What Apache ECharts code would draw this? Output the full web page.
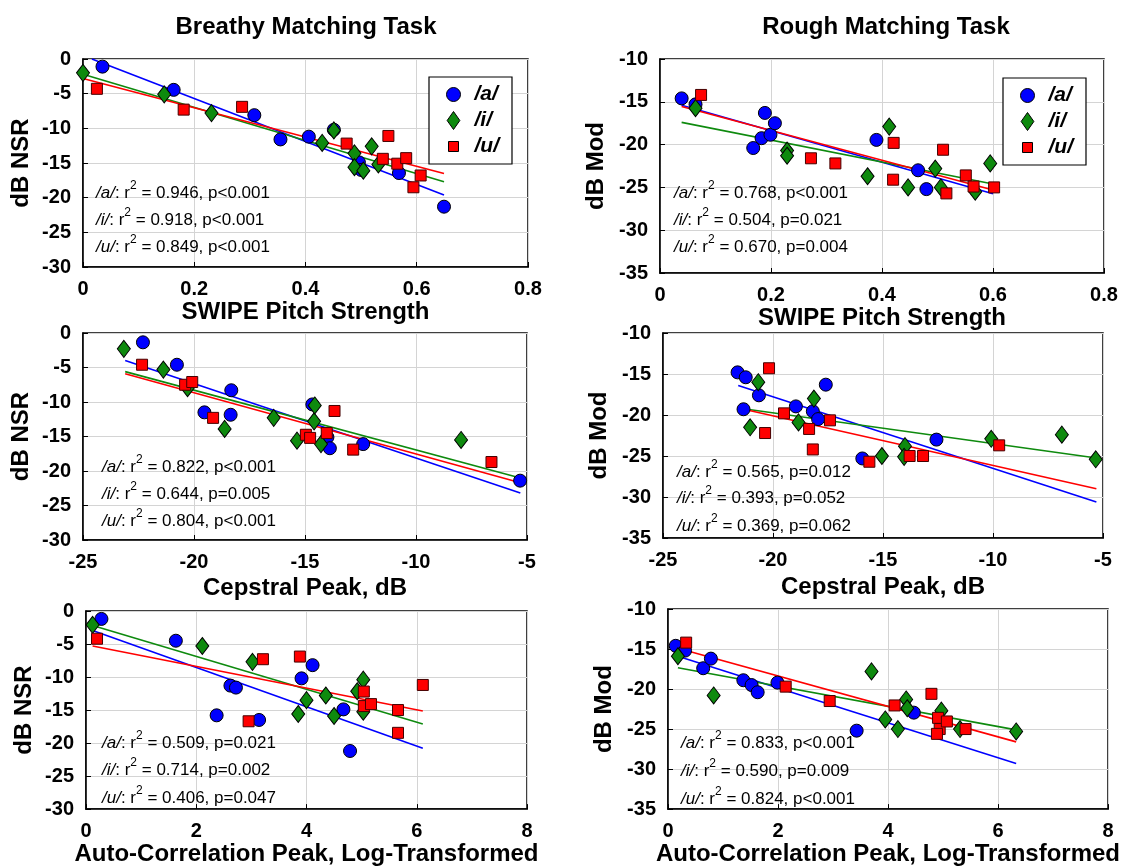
<!DOCTYPE html>
<html><head><meta charset="utf-8">
<script src="https://cdn.jsdelivr.net/npm/echarts@6/dist/echarts.min.js"></script>
<style>html,body{margin:0;padding:0;background:#fff}#c{width:1130px;height:867px}</style>
</head><body><div id="c"></div>
<script>
// ---------- text ----------
const panelTitles = ['Breathy Matching Task', 'Rough Matching Task'];
const xNames = ['SWIPE Pitch Strength', 'SWIPE Pitch Strength', 'Cepstral Peak, dB', 'Cepstral Peak, dB',
  'Auto-Correlation Peak, Log-Transformed', 'Auto-Correlation Peak, Log-Transformed'];
const yNames = ['dB NSR', 'dB Mod', 'dB NSR', 'dB Mod', 'dB NSR', 'dB Mod'];
const vowels = ['/a/', '/i/', '/u/'];

// ---------- axis ranges (min, max, interval) ----------
const xRanges = [[0, 0.8, 0.2], [0, 0.8, 0.2], [-25, -5, 5], [-25, -5, 5], [0, 8, 2], [0, 8, 2]];
const yRanges = [[-30, 0, 5], [-35, -10, 5], [-30, 0, 5], [-35, -10, 5], [-30, 0, 5], [-35, -10, 5]];

// ---------- statistics ----------
const r2Vals = [
  ['0.946', '0.918', '0.849'],
  ['0.768', '0.504', '0.670'],
  ['0.822', '0.644', '0.804'],
  ['0.565', '0.393', '0.369'],
  ['0.509', '0.714', '0.406'],
  ['0.833', '0.590', '0.824']
];
const pVals = [
  ['p<0.001', 'p<0.001', 'p<0.001'],
  ['p<0.001', 'p=0.021', 'p=0.004'],
  ['p<0.001', 'p=0.005', 'p<0.001'],
  ['p=0.012', 'p=0.052', 'p=0.062'],
  ['p=0.021', 'p=0.002', 'p=0.047'],
  ['p<0.001', 'p=0.009', 'p<0.001']
];

// ---------- data: Breathy, SWIPE ----------
const sw1A = [[0.035,-1.1],[0.163,-4.45],[0.308,-8.1],[0.355,-11.6],[0.406,-11.2],[0.451,-10.2],[0.496,-14.9],[0.500,-16.0],[0.568,-16.45],[0.649,-21.3]];
const sw1I = [[0.0,-2.0],[0.146,-5.1],[0.231,-7.8],[0.430,-12.1],[0.451,-10.3],[0.488,-13.6],[0.488,-15.6],[0.504,-16.1],[0.519,-12.6],[0.531,-15.2]];
const sw1U = [[0.025,-4.3],[0.181,-7.3],[0.286,-6.9],[0.474,-12.2],[0.539,-14.4],[0.549,-11.1],[0.565,-15.1],[0.581,-14.3],[0.594,-18.5],[0.607,-16.8]];
const fit1A = [[0.016,0.0],[0.649,-19.6]];
const fit1I = [[0.0,-2.2],[0.649,-17.7]];
const fit1U = [[0.0,-2.8],[0.649,-16.5]];

// ---------- data: Rough, SWIPE ----------
const sw2A = [[0.039,-14.6],[0.064,-15.3],[0.189,-16.3],[0.168,-20.4],[0.183,-19.25],[0.199,-18.85],[0.207,-17.5],[0.390,-19.45],[0.465,-23.0],[0.480,-25.2]];
const sw2I = [[0.064,-15.75],[0.229,-20.7],[0.229,-21.3],[0.374,-23.7],[0.413,-17.9],[0.447,-25.0],[0.496,-22.8],[0.506,-25.0],[0.568,-25.5],[0.595,-22.2]];
const sw2U = [[0.074,-14.2],[0.272,-21.6],[0.316,-22.2],[0.421,-19.8],[0.420,-24.1],[0.510,-20.6],[0.516,-25.7],[0.551,-23.6],[0.565,-24.9],[0.602,-25.0]];
const fit2A = [[0.039,-15.4],[0.600,-25.75]];
const fit2I = [[0.039,-17.4],[0.600,-24.6]];
const fit2U = [[0.039,-15.55],[0.600,-25.3]];

// ---------- data: Breathy, Cepstral ----------
const cp1A = [[-22.3,-1.35],[-20.77,-4.6],[-18.32,-8.3],[-19.53,-11.5],[-18.35,-11.85],[-14.67,-10.35],[-13.99,-15.1],[-13.88,-16.7],[-12.38,-16.1],[-5.31,-21.4]];
const cp1I = [[-23.16,-2.3],[-21.38,-5.3],[-20.29,-8.0],[-18.62,-13.9],[-16.41,-12.3],[-15.36,-15.6],[-14.59,-12.8],[-14.56,-10.5],[-14.28,-16.1],[-7.97,-15.5]];
const cp1U = [[-22.34,-4.6],[-20.4,-7.5],[-20.08,-7.1],[-19.14,-12.3],[-14.96,-14.75],[-14.77,-15.2],[-14.02,-14.5],[-13.67,-11.3],[-12.83,-16.9],[-6.6,-18.7]];
const fit3A = [[-23.1,-4.0],[-5.3,-23.2]];
const fit3I = [[-23.1,-5.6],[-5.3,-21.0]];
const fit3U = [[-23.1,-5.9],[-5.3,-21.7]];

// ---------- data: Rough, Cepstral ----------
const cp2A = [[-21.61,-14.8],[-21.24,-15.4],[-20.64,-17.6],[-21.34,-19.3],[-18.96,-18.95],[-18.19,-19.55],[-17.95,-20.5],[-17.6,-16.3],[-15.94,-25.3],[-12.57,-23.0]];
const cp2I = [[-20.67,-16.0],[-21.04,-21.5],[-18.84,-20.9],[-18.14,-18.0],[-15.05,-25.0],[-14.0,-23.8],[-14.04,-25.1],[-10.08,-22.9],[-6.87,-22.4],[-5.33,-25.4]];
const cp2U = [[-20.18,-14.3],[-19.5,-19.8],[-20.36,-22.2],[-18.36,-21.7],[-18.19,-24.2],[-17.41,-20.65],[-15.62,-25.7],[-13.79,-25.0],[-13.18,-25.0],[-9.72,-23.7]];
const fit4A = [[-21.58,-16.4],[-5.3,-30.6]];
const fit4I = [[-21.58,-19.15],[-5.3,-25.25]];
const fit4U = [[-21.58,-19.15],[-5.3,-29.0]];

// ---------- data: Breathy, Auto-correlation ----------
const ac1A = [[0.28,-1.2],[1.63,-4.5],[2.62,-11.3],[2.72,-11.6],[2.37,-15.8],[3.14,-16.5],[3.91,-10.2],[4.11,-8.2],[4.67,-14.9],[4.79,-21.2]];
const ac1I = [[0.12,-2.1],[2.11,-5.3],[3.02,-7.7],[3.85,-15.6],[4.0,-13.5],[4.35,-12.8],[4.5,-15.9],[4.92,-12.15],[5.03,-10.4],[5.03,-15.25]];
const ac1U = [[0.2,-4.2],[3.21,-7.3],[2.95,-16.7],[3.88,-6.9],[5.04,-12.2],[5.04,-14.4],[5.17,-14.1],[5.66,-15.0],[5.66,-18.45],[6.11,-11.2]];
const fit5A = [[0.12,-2.95],[6.11,-20.8]];
const fit5I = [[0.12,-2.2],[6.11,-17.1]];
const fit5U = [[0.12,-5.3],[6.11,-15.15]];

// ---------- data: Rough, Auto-correlation ----------
const ac2A = [[0.14,-14.6],[0.31,-15.2],[0.64,-17.4],[0.78,-16.2],[1.37,-18.9],[1.52,-19.5],[1.63,-20.4],[1.99,-19.2],[3.43,-25.2],[4.47,-22.95]];
const ac2I = [[0.18,-15.9],[0.83,-20.8],[3.7,-17.8],[3.95,-23.8],[4.18,-25.0],[4.33,-21.3],[4.35,-22.4],[4.97,-22.7],[5.31,-25.0],[6.33,-25.3]];
const ac2U = [[0.33,-14.2],[2.14,-19.7],[2.94,-21.5],[4.12,-22.05],[4.79,-20.6],[4.91,-23.6],[4.94,-25.0],[4.89,-25.6],[5.07,-24.05],[5.41,-25.0]];
const fit6A = [[0.18,-15.9],[6.33,-29.3]];
const fit6I = [[0.18,-17.35],[6.33,-25.1]];
const fit6U = [[0.18,-14.9],[6.33,-26.6]];

const panelPoints = [[sw1A, sw1I, sw1U], [sw2A, sw2I, sw2U], [cp1A, cp1I, cp1U], [cp2A, cp2I, cp2U], [ac1A, ac1I, ac1U], [ac2A, ac2I, ac2U]];
const panelFits = [[fit1A, fit1I, fit1U], [fit2A, fit2I, fit2U], [fit3A, fit3I, fit3U], [fit4A, fit4I, fit4U], [fit5A, fit5I, fit5U], [fit6A, fit6I, fit6U]];

// ---------- layout & style ----------
const FONT = '"Liberation Sans", Arial, Helvetica, sans-serif';
const grids = [
  {left: 83, top: 59, width: 445, height: 208},
  {left: 660, top: 59, width: 444, height: 214},
  {left: 83, top: 333, width: 444, height: 207},
  {left: 663, top: 333, width: 440, height: 205},
  {left: 86, top: 611, width: 441, height: 204},
  {left: 668, top: 609, width: 440, height: 205}
];
const xNameGaps = [31, 32, 36, 37, 28, 27];
const yNameGaps = [50, 52, 50, 52, 50, 52];
const annoPos = [[96, [193, 220, 247]], [674, [193, 220, 247]], [102, [467, 494, 521]], [677, [472, 498, 526]], [102, [743, 770, 798]], [681, [743, 771, 799]]];
const colors = ['#0000ff', '#0e8a0e', '#ff0000'];
const symbols = ['circle', 'diamond', 'rect'];
const symSizes = [13, [13, 17], 11];
const legendIcons = ['circle', 'path://M6,0L12,8.5L6,17L0,8.5Z', 'path://M0,0M2,2L12,2L12,12L2,12ZM14,14'];

const option = {
  animation: false,
  backgroundColor: '#fff',
  grid: grids.map(g => Object.assign({show: true, borderColor: '#000', borderWidth: 1.5, backgroundColor: '#fff', containLabel: false}, g)),
  xAxis: xRanges.map((r, i) => ({
    type: 'value', gridIndex: i, min: r[0], max: r[1], interval: r[2],
    name: xNames[i], nameLocation: 'middle', nameGap: xNameGaps[i],
    nameTextStyle: {fontSize: 24, fontWeight: 'bold', color: '#000', fontFamily: FONT},
    axisLine: {show: true, onZero: false, lineStyle: {color: '#000', width: 1.5}},
    axisTick: {show: true, inside: true, length: 5, lineStyle: {color: '#000'}},
    axisLabel: {fontSize: 20, fontWeight: 'bold', color: '#000', fontFamily: FONT, margin: 12},
    splitLine: {show: true, lineStyle: {color: '#d4d4d4', width: 1}}
  })),
  yAxis: yRanges.map((r, i) => ({
    type: 'value', gridIndex: i, min: r[0], max: r[1], interval: r[2],
    name: yNames[i], nameLocation: 'middle', nameGap: yNameGaps[i],
    nameTextStyle: {fontSize: 24, fontWeight: 'bold', color: '#000', fontFamily: FONT},
    axisLine: {show: true, onZero: false, lineStyle: {color: '#000', width: 1.5}},
    axisTick: {show: true, inside: true, length: 5, lineStyle: {color: '#000'}},
    axisLabel: {fontSize: 20, fontWeight: 'bold', color: '#000', fontFamily: FONT, margin: 12},
    splitLine: {show: true, lineStyle: {color: '#d4d4d4', width: 1}}
  })),
  legend: [
    {left: 429, top: 77},
    {left: 1003, top: 78}
  ].map(p => ({
    left: p.left, top: p.top, orient: 'vertical', selectedMode: false,
    backgroundColor: '#fff', borderColor: '#000', borderWidth: 1.2,
    padding: [7, 13, 7, 17], itemGap: 5, itemWidth: 14, itemHeight: 18,
    textStyle: {fontSize: 21, fontWeight: 'bold', fontStyle: 'italic', color: '#000', fontFamily: FONT, padding: [0, 0, 0, 9]},
    data: vowels.map((v, k) => ({
      name: v,
      icon: legendIcons[k],
      itemStyle: {color: colors[k], borderColor: '#000', borderWidth: 1}
    }))
  })),
  series: [],
  graphic: []
};

for (let p = 0; p < 6; p++) {
  panelFits[p].forEach((f, k) => {
    option.series.push({
      type: 'line', name: 'fit' + p + k, xAxisIndex: p, yAxisIndex: p, data: f,
      showSymbol: false, symbol: 'none', z: 2, silent: true,
      lineStyle: {color: colors[k], width: 1.6}
    });
  });
  panelPoints[p].forEach((d, k) => {
    option.series.push({
      type: 'scatter', name: vowels[k], xAxisIndex: p, yAxisIndex: p, data: d,
      symbol: symbols[k], symbolSize: symSizes[k], z: 3 + k,
      itemStyle: {color: colors[k], borderColor: k === 2 ? '#400' : '#000', borderWidth: 1, opacity: 1}
    });
  });
  const ap = annoPos[p];
  vowels.forEach((v, k) => {
    option.graphic.push({
      type: 'text', left: ap[0], top: ap[1][k] - 13, z: 100,
      style: {
        text: '{i|' + v + '}{n|: r}{s|2}{n| = ' + r2Vals[p][k] + ', ' + pVals[p][k] + '}',
        fill: '#000', fontSize: 17, fontFamily: FONT,
        rich: {
          i: {fontSize: 17, fontStyle: 'italic', fontFamily: FONT, lineHeight: 26},
          n: {fontSize: 17, fontFamily: FONT, lineHeight: 26},
          s: {fontSize: 12, fontFamily: FONT, verticalAlign: 'top'}
        }
      }
    });
  });
}
option.graphic.push(
  {type: 'text', x: 306, y: 27, z: 100, style: {text: panelTitles[0], fill: '#000', font: 'bold 24px ' + FONT, align: 'center', verticalAlign: 'middle', textAlign: 'center', textVerticalAlign: 'middle'}},
  {type: 'text', x: 886, y: 27, z: 100, style: {text: panelTitles[1], fill: '#000', font: 'bold 24px ' + FONT, align: 'center', verticalAlign: 'middle', textAlign: 'center', textVerticalAlign: 'middle'}}
);

const chart = echarts.init(document.getElementById('c'), null, {renderer: 'canvas'});
chart.setOption(option);
</script>
</body></html>
